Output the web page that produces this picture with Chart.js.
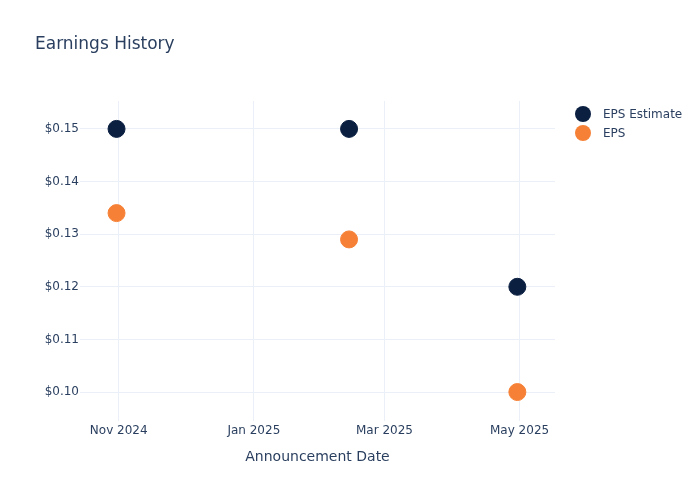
<!DOCTYPE html>
<html>
<head>
<meta charset="utf-8">
<script src="https://cdn.jsdelivr.net/npm/chart.js@4/dist/chart.umd.min.js"></script>
<style>
  body { margin: 0; background: #fff; }
  #wrap { width: 700px; height: 500px; }
</style>
</head>
<body>
<div id="wrap"><canvas id="myChart" width="700" height="500"></canvas></div>
<script>
// announcement dates and EPS values
const dates = ['2024-10-31', '2025-02-13', '2025-04-30'];
const epsEstimate = [0.15, 0.15, 0.12];
const epsActual = [0.134, 0.129, 0.10];
const tickDates = ['2024-11-01', '2025-01-01', '2025-03-01', '2025-05-01'];
const yTicks = [0.10, 0.11, 0.12, 0.13, 0.14, 0.15];

const monthNames = ['Jan', 'Feb', 'Mar', 'Apr', 'May', 'Jun', 'Jul', 'Aug', 'Sep', 'Oct', 'Nov', 'Dec'];
const toTime = s => Date.parse(s + 'T00:00:00Z');
const DAY = 86400000;

const textColor = '#2a3f5f';
const gridColor = '#ebf0f8';
const font = 'DejaVu Sans';

const series = [
  { label: 'EPS Estimate', values: epsEstimate, color: '#0b1f41' },
  { label: 'EPS', values: epsActual, color: '#f68136' },
];

// title and plotly-like legend drawn straight onto the canvas
const extras = {
  id: 'extras',
  afterDraw(chart) {
    const c = chart.ctx;
    c.save();
    c.fillStyle = textColor;
    c.font = '17px "' + font + '"';
    c.textBaseline = 'middle';
    c.fillText('Earnings History', 35, 45);
    c.font = '12px "' + font + '"';
    series.forEach((s, i) => {
      const y = 114 + i * 19;
      c.beginPath();
      c.arc(583, y, 8, 0, Math.PI * 2);
      c.fillStyle = s.color;
      c.fill();
      c.fillStyle = textColor;
      c.fillText(s.label, 603, y + 1);
    });
    c.restore();
  }
};

const ctx = document.getElementById('myChart').getContext('2d');
const myChart = new Chart(ctx, {
  type: 'scatter',
  data: {
    datasets: series.map(s => ({
      label: s.label,
      data: dates.map((d, i) => ({ x: toTime(d), y: s.values[i] })),
      backgroundColor: s.color,
      borderColor: s.color,
      borderWidth: 1,
      pointRadius: 8.5,
    })),
  },
  options: {
    responsive: false,
    animation: false,
    layout: { padding: { left: 0, top: 101, right: 145, bottom: 30 } },
    plugins: {
      legend: { display: false },
      tooltip: { enabled: false },
    },
    scales: {
      x: {
        type: 'linear',
        min: toTime('2024-10-15') - 0.5 * DAY,
        max: toTime('2025-05-01') + 16 * DAY,
        afterBuildTicks: scale => { scale.ticks = tickDates.map(d => ({ value: toTime(d) })); },
        afterFit: scale => { scale.height = 49; },
        grid: { color: gridColor, drawTicks: false },
        border: { display: false },
        ticks: {
          padding: 3,
          color: textColor,
          font: { family: font, size: 12 },
          maxRotation: 0,
          callback: v => {
            const d = new Date(v);
            return monthNames[d.getUTCMonth()] + ' ' + d.getUTCFullYear();
          },
        },
        title: {
          display: true,
          text: 'Announcement Date',
          color: textColor,
          font: { family: font, size: 14 },
          padding: { top: 4, bottom: 4 },
        },
      },
      y: {
        min: 0.0945,
        max: 0.1553,
        afterBuildTicks: scale => { scale.ticks = yTicks.map(v => ({ value: v })); },
        afterFit: scale => { scale.width = 80; },
        grid: { color: gridColor, drawTicks: false },
        border: { display: false },
        ticks: {
          padding: 1,
          color: textColor,
          font: { family: font, size: 12 },
          callback: v => '$' + v.toFixed(2),
        },
      },
    },
  },
  plugins: [extras],
});
</script>
</body>
</html>
